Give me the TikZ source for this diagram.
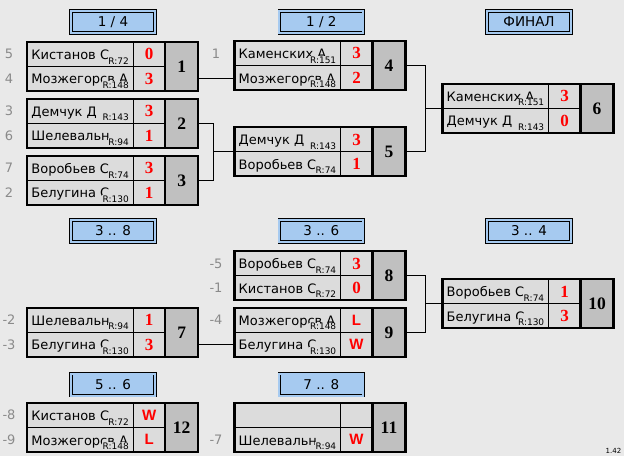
\documentclass[tikz,border=0pt]{standalone}
\usepackage{fontspec}
\setmainfont{DejaVu Sans}
\newfontfamily\serifo{Liberation Serif}
\newfontfamily\sansb{Liberation Sans}
\usetikzlibrary{calc}
\definecolor{fondo}{HTML}{E9E9E9}
\definecolor{gris}{HTML}{DCDCDC}
\definecolor{grisosc}{HTML}{C0C0C0}
\definecolor{azul}{HTML}{A6CAF0}
\definecolor{semilla}{HTML}{8A8A8A}
\newcommand{\resul}[1]{{\sansb\bfseries\fontsize{15}{15}\selectfont #1}}
\tikzset{celda/.style={draw=black,line width=0.8pt,fill=gris,minimum width=106pt,
		 minimum height=24.5pt,inner sep=0pt,outer sep=0pt}}
\tikzset{tanteo/.style={celda,minimum width=32pt,text=red,
		 font=\serifo\bfseries\fontsize{17}{17}\selectfont},
		 numero/.style={celda,fill=grisosc,minimum width=33pt,minimum height=49pt,
		 font=\serifo\bfseries\fontsize{17.5}{17}\selectfont},
		 nombre/.style={inner sep=0pt,font=\fontsize{13}{15}\selectfont},
		 rating/.style={inner sep=0.6pt,fill=gris,font=\fontsize{9}{9}\selectfont},
		 siembra/.style={inner sep=0pt,text=semilla,font=\fontsize{13}{15}\selectfont},
		 ronda/.style={draw=black,line width=0.8pt,double=azul,double distance=2pt,
		 fill=azul,minimum width=84pt,minimum height=22pt,inner sep=0pt,
		 font=\fontsize{13.5}{15}\selectfont},
		 marco/.style={line width=2.5pt},
		 enlace/.style={line width=0.8pt}}
% #1 numero, #2 #3 esquina, luego nombre, rating y tanteo de cada fila
\newcommand{\partido}[9]{%
	\node[celda,anchor=north west] (m#1a) at (#2,#3) {};
	\node[celda,anchor=north west] (m#1b) at (m#1a.south west) {};
	\node[tanteo,anchor=north west] (m#1sa) at (m#1a.north east) {#6};
	\node[tanteo,anchor=north west] (m#1sb) at (m#1sa.south west) {#9};
	\node[numero,anchor=north west] (m#1) at (m#1sa.north east) {#1};
	\node[nombre,anchor=base west] (m#1na) at ($(m#1a.south west)+(4,-7)$) {#4};
	\node[nombre,anchor=base west] (m#1nb) at ($(m#1b.south west)+(4,-7)$) {#7};
	\node[rating,anchor=south east] (m#1ra) at ($(m#1a.south east)+(-3.5,-1.5)$) {#5};
	\node[rating,anchor=south east] (m#1rb) at ($(m#1b.south east)+(-3.5,-1.5)$) {#8};
	\draw[marco] (m#1a.north west) rectangle (m#1.south east);
	\draw[marco] (m#1.north west) -- (m#1.south west);
}

\begin{document}
\begin{tikzpicture}[x=1pt,y=-1pt]
	\fill[fondo] (0,0) rectangle (624,456);
	\useasboundingbox (0,0) rectangle (624,456);
	% rondas
	\node[ronda] (r14) at (113,22) {1 / 4};
	\node[ronda] (r12) at (321.3,22) {1 / 2};
	\node[ronda] (rfin) at (529,22) {ФИНАЛ};
	\node[ronda] (r38) at (113,231) {3 .. 8};
	\node[ronda] (r36) at (321.3,231) {3 .. 6};
	\node[ronda] (r34) at (529,231) {3 .. 4};
	\node[ronda] (r56) at (113,384.5) {5 .. 6};
	\node[ronda] (r78) at (321.3,384.5) {7 .. 8};
	% partidos
	\partido{1}{27.2}{41.9}{Кистанов С}{R:72}{0}{Мозжегорсв А}{R:148}{3}
	\partido{2}{27.2}{98.9}{Демчук Д}{R:143}{3}{Шелевальн}{R:94}{1}
	\partido{3}{27.2}{155.9}{Воробьев С}{R:74}{3}{Белугина С}{R:130}{1}
	\partido{4}{234.5}{41.2}{Каменских А}{R:151}{3}{Мозжегорсв А}{R:148}{2}
	\partido{5}{234.5}{127.2}{Демчук Д}{R:143}{3}{Воробьев С}{R:74}{1}
	\partido{6}{442.5}{83.9}{Каменских А}{R:151}{3}{Демчук Д}{R:143}{0}
	\partido{7}{27.2}{307.9}{Шелевальн}{R:94}{1}{Белугина С}{R:130}{3}
	\partido{8}{234.5}{251.2}{Воробьев С}{R:74}{3}{Кистанов С}{R:72}{0}
	\partido{9}{234.5}{307.9}{Мозжегорсв А}{R:148}{\resul{L}}{Белугина С}{R:130}{\resul{W}}
	\partido{10}{442.5}{279.2}{Воробьев С}{R:74}{1}{Белугина С}{R:130}{3}
	\partido{11}{234.5}{403}{}{}{}{Шелевальн}{R:94}{\resul{W}}
	\partido{12}{27.2}{403}{Кистанов С}{R:72}{\resul{W}}{Мозжегорсв А}{R:148}{\resul{L}}
	% enlaces
	\draw[enlace] (m1.east |- m4b.west) -- (m4b.west);
	\draw[enlace] (m2.east) -- ++(15,0) coordinate (c5) |- (m3.east);
	\draw[enlace] (c5 |- m5a.south west) -- (m5a.south west);
	\draw[enlace] (m4.east) -- ++(20,0) coordinate (c6) |- (m5.east);
	\draw[enlace] (c6 |- m6a.south west) -- (m6a.south west);
	\draw[enlace] (m8.east) -- ++(20,0) coordinate (c10) |- (m9.east);
	\draw[enlace] (c10 |- m10a.south west) -- (m10a.south west);
	\draw[enlace] (m7.east |- m9b.west) -- (m9b.west);
	% siembras
	\node[siembra] (s1a) at (m1a.west -| 9,0) {5};
	\node[siembra] (s1b) at (m1b.west -| 9,0) {4};
	\node[siembra] (s2a) at (m2a.west -| 9,0) {3};
	\node[siembra] (s2b) at (m2b.west -| 9,0) {6};
	\node[siembra] (s3a) at (m3a.west -| 9,0) {7};
	\node[siembra] (s3b) at (m3b.west -| 9,0) {2};
	\node[siembra] (s4a) at (m4a.west -| 216,0) {1};
	\node[siembra] (s8a) at (m8a.west -| 216,0) {-5};
	\node[siembra] (s8b) at (m8b.west -| 216,0) {-1};
	\node[siembra] (s9a) at (m9a.west -| 216,0) {-4};
	\node[siembra] (s7a) at (m7a.west -| 9,0) {-2};
	\node[siembra] (s7b) at (m7b.west -| 9,0) {-3};
	\node[siembra] (s12a) at (m12a.west -| 9,0) {-8};
	\node[siembra] (s12b) at (m12b.west -| 9,0) {-9};
	\node[siembra] (s11b) at (m11b.west -| 216,0) {-7};
	\node[inner sep=0pt,font=\fontsize{7}{7}\selectfont] (ver) at (613.5,450.5) {1.42};
\end{tikzpicture}
\end{document}
